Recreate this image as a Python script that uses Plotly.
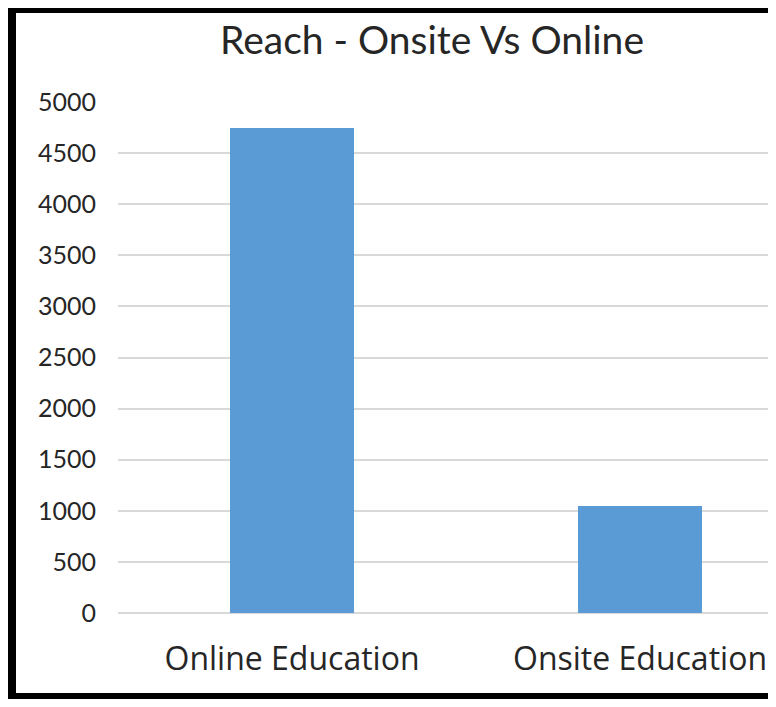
import plotly.graph_objects as go

categories = ["Online Education", "Onsite Education"]
reach = [4750, 1050]
y_ticks = [0, 500, 1000, 1500, 2000, 2500, 3000, 3500, 4000, 4500, 5000]

# page has an 8px body margin; keep the figure inside the window (no scrollbars)
OFF = 8
W, H = 776 - 2 * OFF, 707 - 2 * OFF
L, T = 118 - OFF, 102 - OFF
B = (H + OFF) - 613
R = 0
pw = W - L - R
ph = H - T - B

def px_x(px):
    return (px - OFF - L) / pw

def px_y(py):
    return (H - B - (py - OFF)) / ph

fig = go.Figure(go.Bar(
    x=categories, y=reach, marker=dict(color="#5b9bd5", line=dict(width=0)),
    width=0.354,
))

font = "Lato, Open Sans, DejaVu Sans, sans-serif"
fig.update_layout(
    width=W, height=H,
    margin=dict(l=L, r=R, t=T, b=B, pad=0),
    paper_bgcolor="white", plot_bgcolor="white",
    font=dict(family=font, color="#262626"),
    title=dict(text="Reach - Onsite Vs Online", x=(432 - OFF) / W, xref="container",
               xanchor="center", y=1 - (40 - OFF) / H, yref="container", yanchor="middle",
               font=dict(size=39, color="#262626")),
    showlegend=False,
    bargap=0,
)
fig.update_xaxes(range=[-0.5, -0.5 + pw / 348], showgrid=False, showline=False,
                 ticks="", tickfont=dict(size=32, color="#262626",
                                         family="Open Sans, Noto Sans, sans-serif"),
                 ticklabelstandoff=24, fixedrange=True)
fig.update_yaxes(range=[0, 5000], tickvals=y_ticks, showgrid=True, gridcolor="#d9d9d9",
                 gridwidth=1.5, zeroline=True, zerolinecolor="#d9d9d9", zerolinewidth=1.5,
                 showline=False, ticks="", tickfont=dict(size=25, color="#262626"),
                 ticklabelstandoff=21, fixedrange=True)

# outer frame
shapes = [
    dict(type="rect", xref="paper", yref="paper", x0=px_x(7), x1=px_x(16), y0=px_y(707), y1=px_y(5),
         fillcolor="black", line=dict(width=0), layer="above"),
    dict(type="rect", xref="paper", yref="paper", x0=px_x(7), x1=px_x(776), y0=px_y(13), y1=px_y(5),
         fillcolor="black", line=dict(width=0), layer="above"),
    dict(type="rect", xref="paper", yref="paper", x0=px_x(7), x1=px_x(776), y0=px_y(707), y1=px_y(693),
         fillcolor="black", line=dict(width=0), layer="above"),
]
fig.update_layout(shapes=shapes)

fig.write_html("out.html", config={"displayModeBar": False})
